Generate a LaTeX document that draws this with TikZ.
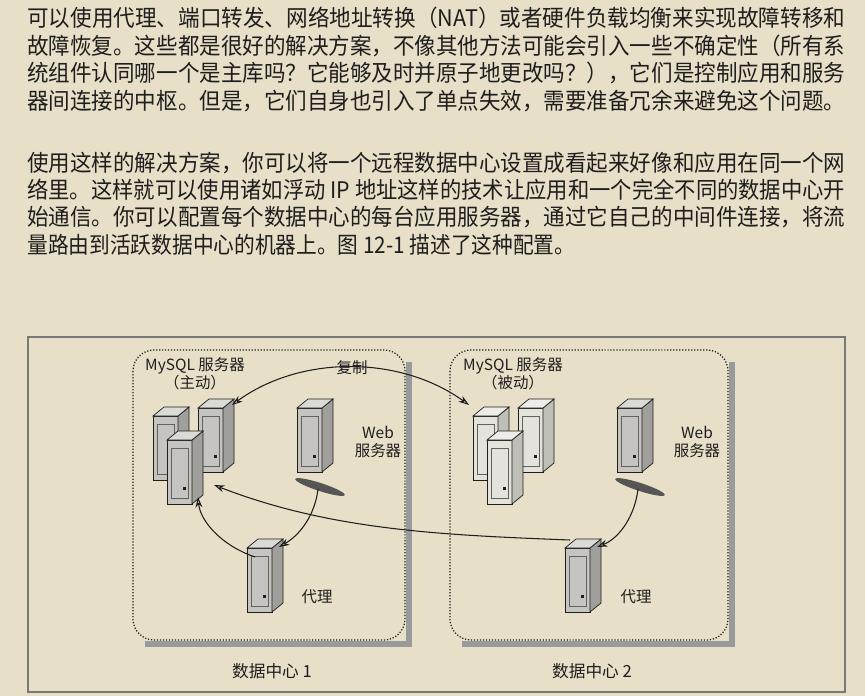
\documentclass[tikz,border=0pt]{standalone}
\usepackage{fontspec}
\usepackage{graphicx}
\setmainfont{Liberation Sans}
\newfontfamily\cjk{Noto Sans CJK SC}
\usetikzlibrary{arrows.meta}
\definecolor{paper}{RGB}{231,223,199}
\definecolor{ink}{RGB}{30,30,30}
\definecolor{towergray}{RGB}{150,148,140}
\definecolor{fadegray}{RGB}{205,202,190}
\newcommand{\jline}[2][16.36cm]{\resizebox{#1}{\height}{#2}}

\tikzset{
    pics/tower/.style={code={
        \fill[#1!55!white, draw=ink, line width=0.4pt] (-15,-32) rectangle (10,32);
        \fill[#1!80!black!70!white, draw=ink, line width=0.4pt] (10,-32) -- (21,-41) -- (21,23) -- (10,32) -- cycle;
        \fill[#1!35!white, draw=ink, line width=0.4pt] (-15,-32) -- (-4,-41) -- (21,-41) -- (10,-32) -- cycle;
        \draw[ink!70, line width=0.4pt] (-11,-24) rectangle (6,26);
        \fill[ink] (1,15) rectangle (4,18);
    }}
}

\begin{document}
\begin{tikzpicture}[
    x=0.02cm, y=-0.02cm,
    textline/.style={anchor=west, inner sep=0pt, font=\cjk\fontsize{13}{15}\selectfont, text=ink},
    label/.style={font=\cjk\fontsize{8.8}{10.5}\selectfont, text=ink, align=center, inner sep=1pt},
    dcbox/.style={draw=ink, densely dotted, line width=0.7pt, rounded corners=12pt},
    shadow/.style={draw=ink!45, line width=3pt},
    arrow/.style={-{Stealth[length=6pt,width=4pt,open]}, ink, line width=0.6pt}
]
\useasboundingbox (0,0) rectangle (865,696);
\fill[paper] (0,0) rectangle (865,696);

% Body text
\node[textline] (p1a) at (27,18) {\jline{可以使用代理、端口转发、网络地址转换（NAT）或者硬件负载均衡来实现故障转移和}};
\node[textline] (p1b) at (27,46) {\jline{故障恢复。这些都是很好的解决方案，不像其他方法可能会引入一些不确定性（所有系}};
\node[textline] (p1c) at (27,73) {\jline{统组件认同哪一个是主库吗？它能够及时并原子地更改吗？），它们是控制应用和服务}};
\node[textline] (p1d) at (27,101) {\jline{器间连接的中枢。但是，它们自身也引入了单点失效，需要准备冗余来避免这个问题。}};
\node[textline] (p2a) at (27,163) {\jline{使用这样的解决方案，你可以将一个远程数据中心设置成看起来好像和应用在同一个网}};
\node[textline] (p2b) at (27,190) {\jline{络里。这样就可以使用诸如浮动 IP 地址这样的技术让应用和一个完全不同的数据中心开}};
\node[textline] (p2c) at (27,217) {\jline{始通信。你可以配置每个数据中心的每台应用服务器，通过它自己的中间件连接，将流}};
\node[textline] (p2d) at (27,245) {\jline[10.96cm]{量路由到活跃数据中心的机器上。图 12-1 描述了这种配置。}};

% Figure frame
\draw[ink!60, line width=0.8pt] (28,337) rectangle (845,692);

% Data centre boxes
\draw[shadow] (409,362) -- (409,644) -- (145,644);
\draw[shadow] (732,362) -- (732,644) -- (462,644);
\draw[dcbox] (133,350) rectangle (405,640);
\draw[dcbox] (450,350) rectangle (728,640);
\node[label, font=\cjk\fontsize{9.5}{11}\selectfont] (dc1) at (272,671) {数据中心 1};
\node[label, font=\cjk\fontsize{9.5}{11}\selectfont] (dc2) at (592,671) {数据中心 2};

% Servers
\pic at (168,448) {tower=towergray};
\pic at (213,440) {tower=towergray};
\pic at (182,472) {tower=towergray};
\pic at (488,448) {tower=fadegray};
\pic at (533,440) {tower=fadegray};
\pic at (502,472) {tower=fadegray};
\pic at (312,440) {tower=towergray};
\pic at (632,440) {tower=towergray};
\pic at (262,580) {tower=towergray};
\pic at (580,580) {tower=towergray};
\fill[ink!75, rotate around={-18:(320,487)}] (320,487) ellipse (26 and 4);
\fill[ink!75, rotate around={-18:(640,487)}] (640,487) ellipse (26 and 4);

% Anchors for connectors
\coordinate (masterb) at (198,497);
\coordinate (masterr) at (214,485);
\coordinate (mastert) at (232,405);
\coordinate (slave) at (469,405);
\coordinate (web1) at (318,489);
\coordinate (web2) at (638,489);
\coordinate (proxy1) at (279,547);
\coordinate (proxy1t) at (255,557);
\coordinate (proxy2) at (597,547);
\coordinate (proxy2t) at (570,540);

% Labels
\node[label] (m1) at (195,374) {MySQL 服务器\\（主动）};
\node[label] (m2) at (513,374) {MySQL 服务器\\（被动）};
\node[label] (repl) at (352,368) {复制};
\node[label] (w1) at (378,442) {Web\\服务器};
\node[label] (w2) at (697,442) {Web\\服务器};
\node[label] (x1) at (317,597) {代理};
\node[label] (x2) at (636,597) {代理};

% Arrows
\draw[arrow, {Stealth[length=6pt,width=4pt,open]}-{Stealth[length=6pt,width=4pt,open]}] (mastert) .. controls (300,355) and (400,355) .. (slave);
\draw[arrow] (web1) .. controls (315,515) and (300,535) .. (proxy1);
\draw[arrow] (proxy1t) .. controls (220,545) and (200,520) .. (masterb);
\draw[arrow] (web2) .. controls (635,515) and (620,538) .. (proxy2);
\draw[arrow] (proxy2t) .. controls (440,535) and (330,530) .. (masterr);

\end{tikzpicture}
\end{document}
